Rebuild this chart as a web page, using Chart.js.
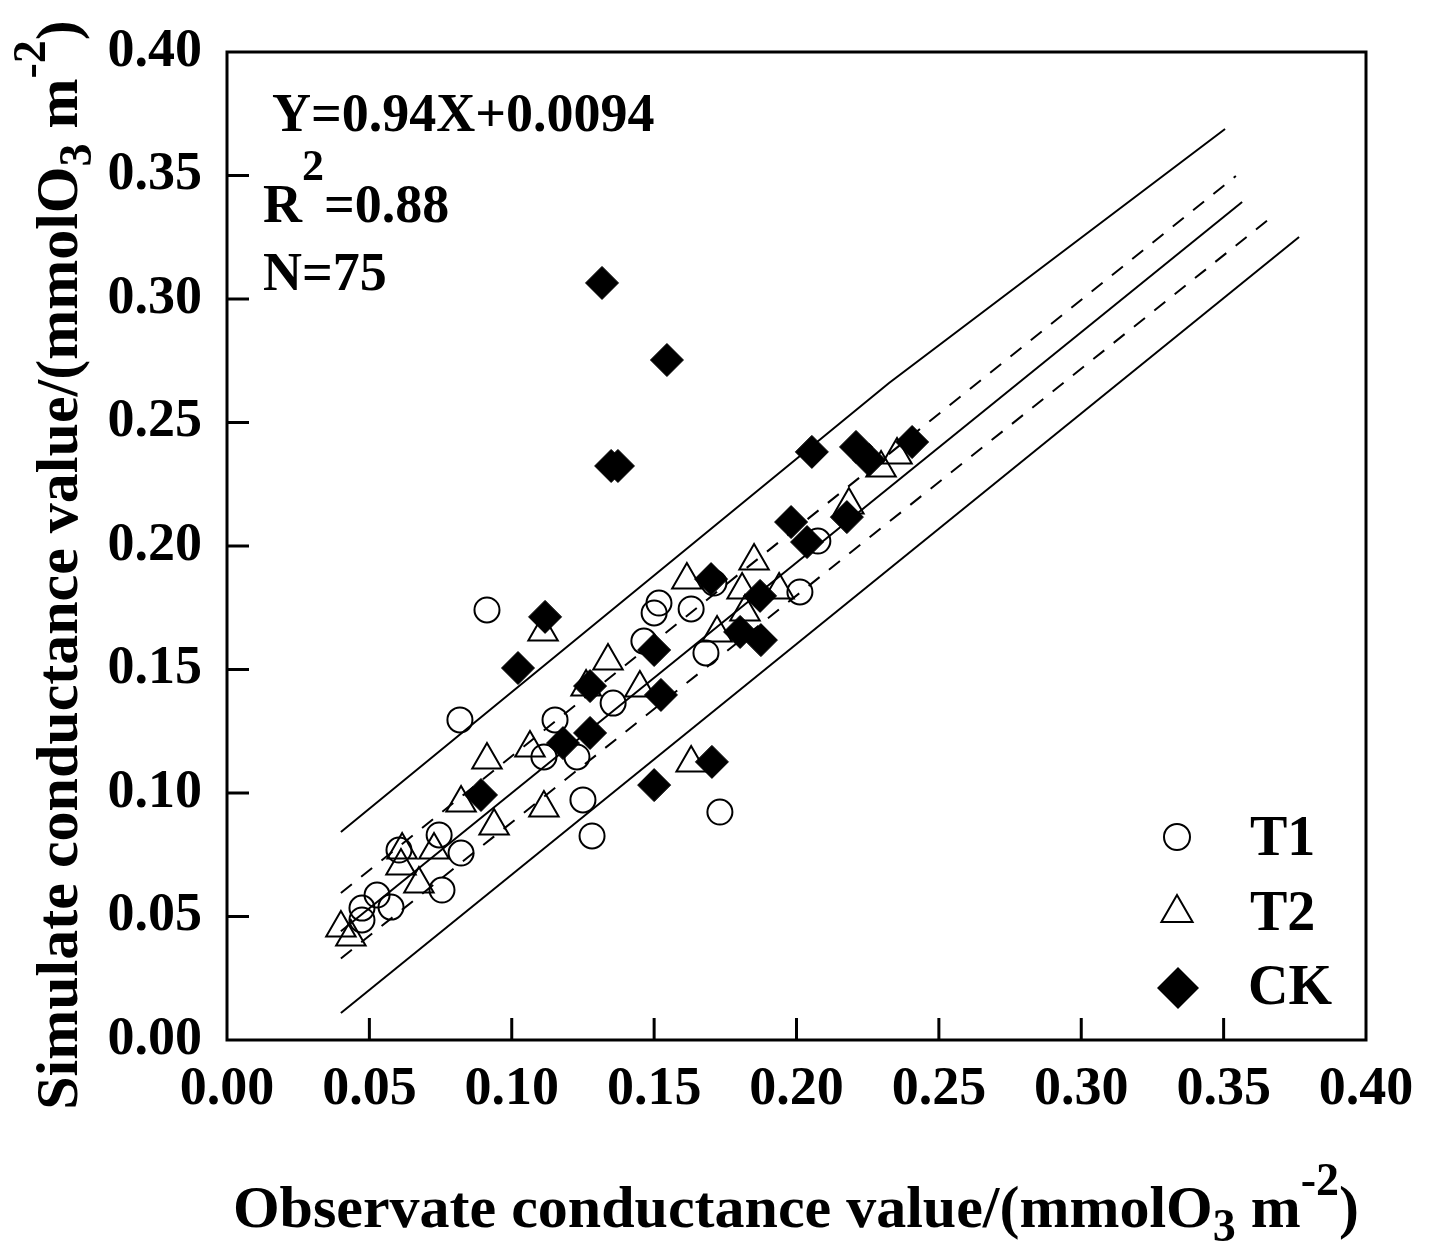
<!doctype html>
<html>
<head>
<meta charset="UTF-8">
<title>Conductance</title>
<script src="https://cdn.jsdelivr.net/npm/chart.js@4.4.0/dist/chart.umd.min.js"></script>
<style>body{margin:0;background:#fff}</style>
</head>
<body>
<canvas id="myChart" width="1429" height="1243"></canvas>
<script>
var t1X = [0.0913,0.0818,0.1152,0.1113,0.1229,0.1250,0.1282,0.1356,0.1464,0.1500,0.1517,0.1630,0.1682,0.1731,0.1710,0.2012,0.2075,0.0604,0.0745,0.0822,0.0755,0.0527,0.0474,0.0576,0.0474];
var t1Y = [0.1741,0.1296,0.1296,0.1146,0.1146,0.0972,0.0826,0.1364,0.1615,0.1729,0.1769,0.1745,0.1567,0.0923,0.1850,0.1814,0.2020,0.0769,0.0830,0.0757,0.0607,0.0587,0.0534,0.0538,0.0486];

var t2X = [0.1110,0.0913,0.1064,0.1113,0.0938,0.0822,0.1338,0.1261,0.1450,0.1615,0.1851,0.1809,0.1819,0.1721,0.1630,0.2184,0.2297,0.2353,0.1939,0.0615,0.0727,0.0674,0.0611,0.0400,0.0435];
var t2Y = [0.1652,0.1134,0.1182,0.0939,0.0866,0.0960,0.1534,0.1429,0.1425,0.1862,0.1939,0.1822,0.1733,0.1648,0.1121,0.2166,0.2316,0.2368,0.1822,0.0769,0.0769,0.0632,0.0704,0.0453,0.0417];

var ckX = [0.1317,0.1545,0.1349,0.1373,0.2054,0.2209,0.2255,0.2406,0.1981,0.2037,0.2177,0.1872,0.1802,0.1875,0.1700,0.1500,0.1524,0.1703,0.1500,0.1117,0.1022,0.1275,0.1180,0.1275,0.0892];
var ckY = [0.3065,0.2753,0.2324,0.2324,0.2381,0.2401,0.2348,0.2421,0.2097,0.2016,0.2117,0.1798,0.1652,0.1619,0.1866,0.1579,0.1397,0.1126,0.1032,0.1713,0.1506,0.1433,0.1202,0.1243,0.0992];

// fit line and bands
var fitX = [0.0400, 0.3565];
var fitY = [0.0440, 0.3393];
var upConfX = [0.0400, 0.3543];
var upConfY = [0.0595, 0.3498];
var loConfX = [0.0400, 0.3660];
var loConfY = [0.0330, 0.3324];
var upPredX = [0.0400, 0.2325, 0.3505];
var upPredY = [0.0842, 0.2660, 0.3688];
var loPredX = [0.0400, 0.3765];
var loPredY = [0.0109, 0.3251];

var ticks = [0, 0.05, 0.10, 0.15, 0.20, 0.25, 0.30, 0.35, 0.40];

var FONT = '"Liberation Serif", "Times New Roman", serif';

function pts(xs, ys) {
    return xs.map(function (x, i) { return {x: x, y: ys[i]}; });
}

function lineSet(xs, ys, dash) {
    return {
        type: 'line', data: pts(xs, ys), showLine: true, fill: false,
        borderColor: '#000', borderWidth: 2, borderDash: dash || [],
        pointRadius: 0, tension: 0, order: 5
    };
}

function richText(ctx, parts, x, y, angle, align) {
    ctx.save();
    ctx.translate(x, y);
    ctx.rotate(angle);
    var total = 0;
    parts.forEach(function (p) {
        ctx.font = 'bold ' + p.size + 'px ' + FONT;
        p.w = ctx.measureText(p.t).width;
        total += p.w;
    });
    var cx = align === 'center' ? -total / 2 : 0;
    ctx.fillStyle = '#000';
    ctx.textAlign = 'left';
    ctx.textBaseline = 'alphabetic';
    parts.forEach(function (p) {
        ctx.font = 'bold ' + p.size + 'px ' + FONT;
        ctx.fillText(p.t, cx, p.dy || 0);
        cx += p.w;
    });
    ctx.restore();
}

var decorations = {
    id: 'decorations',
    afterDraw: function (chart) {
        var ctx = chart.ctx;
        var a = chart.chartArea;
        var xs = chart.scales.x, ys = chart.scales.y;
        ctx.save();
        ctx.strokeStyle = '#000';
        ctx.lineWidth = 3;
        ctx.strokeRect(a.left, a.top, a.right - a.left, a.bottom - a.top);
        ticks.slice(1, -1).forEach(function (v) {
            var px = xs.getPixelForValue(v);
            ctx.beginPath(); ctx.moveTo(px, a.bottom); ctx.lineTo(px, a.bottom - 22); ctx.stroke();
            var py = ys.getPixelForValue(v);
            ctx.beginPath(); ctx.moveTo(a.left, py); ctx.lineTo(a.left + 22, py); ctx.stroke();
        });

        // axis titles
        richText(ctx, [
            {t: 'Observate conductance value/(mmolO', size: 60},
            {t: '3', size: 46, dy: 14},
            {t: ' m', size: 60},
            {t: '-2', size: 46, dy: -32},
            {t: ')', size: 60}
        ], 796, 1227, 0, 'center');
        richText(ctx, [
            {t: 'Simulate conductance value/(mmolO', size: 60},
            {t: '3', size: 46, dy: 14},
            {t: ' m', size: 60},
            {t: '-2', size: 46, dy: -32},
            {t: ')', size: 60}
        ], 77, 565, -Math.PI / 2, 'center');

        // regression annotation
        richText(ctx, [{t: 'Y=0.94X+0.0094', size: 54}], 272, 131, 0);
        richText(ctx, [{t: 'R', size: 54}, {t: '2', size: 44, dy: -42}, {t: '=0.88', size: 54}], 263, 222, 0);
        richText(ctx, [{t: 'N=75', size: 54}], 263, 290, 0);

        // legend
        ctx.lineWidth = 2;
        ctx.beginPath(); ctx.arc(1177, 837, 13, 0, Math.PI * 2); ctx.stroke();
        var r = 18, cy = 913;
        ctx.beginPath();
        ctx.moveTo(1177, cy - r);
        ctx.lineTo(1177 + r * Math.sqrt(3) / 2, cy + r / 2);
        ctx.lineTo(1177 - r * Math.sqrt(3) / 2, cy + r / 2);
        ctx.closePath(); ctx.stroke();
        ctx.fillStyle = '#000';
        ctx.beginPath();
        ctx.moveTo(1178, 988 - 21); ctx.lineTo(1199, 988); ctx.lineTo(1178, 988 + 21); ctx.lineTo(1157, 988);
        ctx.closePath(); ctx.fill();
        richText(ctx, [{t: 'T1', size: 56}], 1250, 855, 0);
        richText(ctx, [{t: 'T2', size: 56}], 1250, 930, 0);
        richText(ctx, [{t: 'CK', size: 56}], 1248, 1004, 0);
        ctx.restore();
    }
};

function fixPad(s) {
    s.paddingTop = 0; s.paddingBottom = 0; s.paddingLeft = 0; s.paddingRight = 0;
}

var ctx = document.getElementById('myChart').getContext('2d');
var myChart = new Chart(ctx, {
    type: 'scatter',
    data: {
        datasets: [
            {label: 'T1', data: pts(t1X, t1Y), pointStyle: 'circle', pointRadius: 12.5,
             borderColor: '#000', borderWidth: 2, backgroundColor: 'rgba(0,0,0,0)', order: 1},
            {label: 'T2', data: pts(t2X, t2Y), pointStyle: 'triangle', pointRadius: 17,
             borderColor: '#000', borderWidth: 2, backgroundColor: 'rgba(0,0,0,0)', order: 1},
            {label: 'CK', data: pts(ckX, ckY), pointStyle: 'rectRot', pointRadius: 16.5,
             borderColor: '#000', borderWidth: 1, backgroundColor: '#000', order: 0},
            lineSet(fitX, fitY),
            lineSet(upConfX, upConfY, [14, 12]),
            lineSet(loConfX, loConfY, [14, 12]),
            lineSet(upPredX, upPredY),
            lineSet(loPredX, loPredY)
        ]
    },
    options: {
        responsive: false,
        animation: false,
        devicePixelRatio: 1,
        layout: {padding: {top: 52, right: 63, left: 0, bottom: 0}},
        plugins: {legend: {display: false}, tooltip: {enabled: false}},
        scales: {
            x: {
                type: 'linear', min: 0, max: 0.4,
                afterFit: function (s) { s.height = 203; fixPad(s); },
                afterBuildTicks: function (s) { s.ticks = ticks.map(function (v) { return {value: v}; }); },
                grid: {display: false, drawTicks: false},
                border: {display: false},
                ticks: {padding: 18, color: '#000', font: {family: FONT, size: 54, weight: 'bold'},
                        maxRotation: 0, callback: function (v) { return v.toFixed(2); }}
            },
            y: {
                type: 'linear', min: 0, max: 0.4,
                afterFit: function (s) { s.width = 227; fixPad(s); },
                afterBuildTicks: function (s) { s.ticks = ticks.map(function (v) { return {value: v}; }); },
                grid: {display: false, drawTicks: false},
                border: {display: false},
                ticks: {padding: 25, color: '#000', font: {family: FONT, size: 54, weight: 'bold'},
                        callback: function (v) { return v.toFixed(2); }}
            }
        }
    },
    plugins: [decorations]
});
</script>
</body>
</html>
